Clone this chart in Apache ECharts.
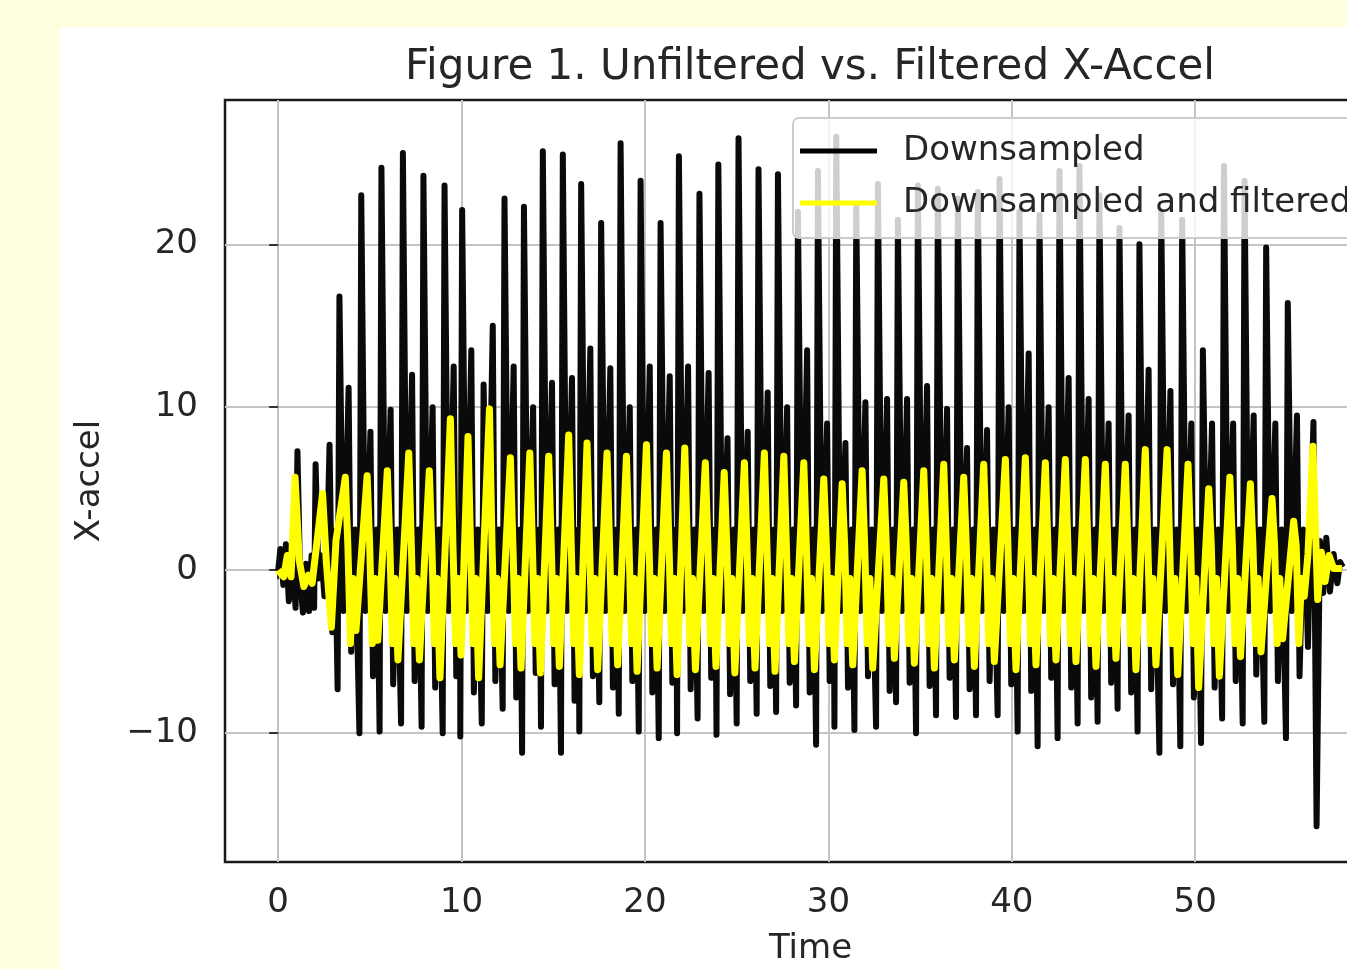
<!DOCTYPE html>
<html>
<head>
<meta charset="utf-8">
<title>Figure 1</title>
<script src="https://cdn.jsdelivr.net/npm/echarts@6/dist/echarts.min.js"></script>
<style>
  html, body { margin: 0; padding: 0; overflow: hidden; background: #fffee0; }
  #panel { position: absolute; left: 60px; top: 27px; width: 1300px; height: 950px; background: #ffffff; }
  #chart { position: absolute; left: 0; top: 0; width: 1420px; height: 969px; }
</style>
</head>
<body>
<div id="panel"></div>
<div id="chart"></div>
<script>
// start of the recording, before the regular strokes begin
const startBlack = [[0, 0], [0.12, 1.3], [0.28, -0.9], [0.42, 1.6], [0.58, -1.9], [0.78, 0.6], [0.95, -2.3], [1.05, 7.3],
  [1.2, -0.6], [1.35, -2.6], [1.52, 0.4], [1.68, -2.5], [1.82, 0.9], [1.96, -2.3], [2.04, 6.5], [2.2, -0.5],
  [2.36, 0.9], [2.52, -1.6], [2.68, 1.8], [2.8, 7.7], [2.95, -3.8], [3.1, 2.4]]
const startFilt = [[0, 0], [0.3, -0.4], [0.5, 0.9], [0.7, -0.4], [0.92, 5.7], [1.15, 0.6], [1.4, -1.0], [1.65, -0.3],
  [1.85, -0.8], [2.1, 1.6], [2.42, 4.7], [2.62, 0.6], [2.9, -3.5], [3.15, 1.8]]

// one entry per stroke: time of the big spike, then the values read around it
const spikeTime = [3.34, 4.53, 5.63, 6.8, 7.92, 9.07, 10.03, 11.2, 12.34, 13.4, 14.43, 15.52, 16.52, 17.61, 18.67, 19.76,
  20.85, 21.85, 22.97, 24.0, 25.1, 26.19, 27.25, 28.34, 29.43, 30.43, 31.52, 32.7, 33.79, 34.88, 35.97, 37.06,
  38.15, 39.33, 40.42, 41.51, 42.6, 43.69, 44.78, 45.87, 46.96, 48.15, 49.29, 50.42, 51.57, 52.69, 53.87, 55.05]
const peakVal = [16.8, 23.0, 24.7, 25.6, 24.2, 23.6, 22.1, 11.4, 22.8, 22.3, 25.7, 25.5, 23.7, 21.3, 26.2, 23.9,
  21.3, 25.4, 23.1, 24.9, 26.5, 24.6, 24.3, 22.0, 24.5, 26.6, 22.4, 23.7, 21.5, 23.6, 23.4, 22.8,
  23.2, 24.0, 22.0, 21.8, 24.5, 24.8, 23.0, 21.0, 20.0, 22.0, 21.5, 13.5, 24.8, 23.9, 19.8, 16.4]
const troughVal = [-7.3, -10, -9.9, -9.4, -9.6, -10, -10.2, -9.4, -8.5, -11.2, -9.6, -11.2, -9.9, -8.1, -8.8, -9.9,
  -10.3, -10, -9.1, -10.1, -9.4, -8.8, -8.7, -8.3, -10.7, -9.6, -9.8, -9.6, -8.1, -10, -8.9, -9,
  -8.9, -8.9, -9.9, -10.8, -10.3, -9.4, -9.3, -8.5, -9.9, -11.2, -10.8, -10.6, -9.1, -9.4, -9.3, -10.3]
const midVal = [11.2, 8.5, 9.85, 12, 10, 12.5, 13.5, 15, 12.5, 10, 11.5, 11.8, 13.6, 12.4, 10, 12.5,
  11.9, 12.5, 12.1, 8.1, 8.5, 10.9, 10, 13.5, 9, 7.8, 10.3, 10.5, 10.5, 11.3, 9.9, 7.5,
  8.6, 10, 13.3, 10, 11.8, 10.5, 9, 9.5, 12.3, 11, 9, 9, 9, 9.5, 9, 9.5]
const lowVal = [-5, -6.5, -7, -6.8, -7.2, -6.5, -7.5, -6.8, -7.8, -6.3, -7, -8, -6.5, -7.2, -6.8, -7.5,
  -6.9, -7.3, -6.6, -7.6, -6.8, -7.1, -6.9, -7.5, -6.8, -7.2, -6.5, -7.4, -6.9, -7.1, -6.6, -7.3,
  -6.8, -7, -7.4, -6.6, -7.2, -7.8, -6.9, -7.5, -7.3, -7, -7.8, -7.2, -6.8, -6.4, -6.8, -6.5]
const filtPeak = [5.7, 5.8, 6.1, 7.2, 6.1, 9.3, 8.2, 9.9, 6.9, 7.2, 7, 8.3, 7.8, 7.2, 7, 7.7,
  7.2, 7.5, 6.6, 6, 6.6, 7.2, 7, 6.6, 5.6, 5.3, 6.1, 5.6, 5.4, 6.1, 6.5, 5.7,
  6.5, 6.8, 6.9, 6.6, 6.8, 6.8, 6.5, 6.5, 7.4, 7.4, 6.5, 5, 5.7, 5.3, 4.4, 3.0]
const filtTrough = [-3.7, -4.3, -5.5, -5.5, -6.6, -5.2, -6.6, -5.8, -6, -6.3, -5.9, -6.4, -6.1, -5.8, -6.2, -6,
  -6.4, -6.1, -5.9, -6.3, -6, -6.2, -5.6, -6.1, -5.5, -5.8, -6, -5.4, -5.7, -6, -5.5, -5.9,
  -5.6, -6.1, -5.8, -5.5, -5.6, -5.9, -5.4, -6.1, -5.8, -6.4, -7.2, -6.5, -5.3, -5, -4.2, -1.6]

// tail of the recording
const endBlack = [[56.0, 1.5], [56.15, -4.7], [56.3, 3], [56.45, 9.1], [56.62, -15.7], [56.8, 1.8], [56.98, -1.4],
  [57.15, 2.0], [57.35, -1.3], [57.55, 1.0], [57.75, -0.8], [57.9, 0.5], [58.05, 0.2]]
const endFilt = [[56.15, 1.0], [56.42, 7.6], [56.68, -1.8], [56.88, 1.1], [57.08, -0.7], [57.3, 0.9], [57.55, 0.1], [58.0, 0.1]]

const xTicks = [0, 10, 20, 30, 40, 50]
const yTicks = [-10, 0, 10, 20]

document.addEventListener('DOMContentLoaded', () => {
  //拼出两条曲线
  const black = startBlack.slice()
  const filt = startFilt.slice()
  spikeTime.forEach((t, i) => {
    black.push([t - 0.1, troughVal[i]], [t, peakVal[i]], [t + 0.22, -2.5], [t + 0.5, midVal[i]], [t + 0.64, lowVal[i]], [t + 0.85, 2.5])
    filt.push([t + 0.32, filtPeak[i]], [t + 0.46, 1.5], [t + 0.6, -4.5], [t + 0.74, -0.5], [t + 0.9, filtTrough[i]])
  })
  endBlack.forEach(p => black.push(p))
  endFilt.forEach(p => filt.push(p))
  drawChart(black, filt)
})

function drawChart(black, filt) {
  var chartDom = document.getElementById('chart');
  var myChart = echarts.init(chartDom, null, { renderer: 'canvas' });
  var option;
  const font = 'DejaVu Sans'
  const textColor = '#262626'

  option = {
    animation: false,
    backgroundColor: 'transparent',
    textStyle: { fontFamily: font },
    graphic: [
      {
        type: 'text',
        x: 810,
        y: 68,
        style: {
          text: 'Figure 1. Unfiltered vs. Filtered X-Accel',
          fontFamily: font,
          fontSize: 42,
          fill: textColor,
          align: 'center',
          verticalAlign: 'middle',
          textAlign: 'center',
          textVerticalAlign: 'middle'
        }
      }
    ],
    grid: {
      left: 225,
      top: 100,
      width: 1171,
      height: 762,
      containLabel: false,
      outerBoundsMode: 'none',
      show: true,
      borderColor: '#1a1a1a',
      borderWidth: 2.5,
      backgroundColor: 'transparent'
    },
    legend: {
      left: 793,
      top: 118,
      orient: 'vertical',
      icon: 'rect',
      itemWidth: 77,
      itemHeight: 5,
      itemGap: 12,
      padding: [13, 20, 15, 7],
      backgroundColor: 'rgba(255,255,255,0.8)',
      borderColor: '#cccccc',
      borderWidth: 2,
      borderRadius: 6,
      textStyle: {
        fontFamily: font,
        fontSize: 34,
        lineHeight: 40,
        color: textColor,
        padding: [0, 0, 0, 21]
      },
      data: ['Downsampled', 'Downsampled and filtered']
    },
    xAxis: {
      type: 'value',
      min: -2.9,
      max: 60.95,
      name: 'Time',
      nameLocation: 'middle',
      nameGap: 70,
      nameTextStyle: { fontFamily: font, fontSize: 34, color: textColor },
      axisLine: { show: false },
      axisTick: { show: true, length: 9, customValues: xTicks, lineStyle: { color: '#333', width: 2 } },
      axisLabel: { customValues: xTicks, fontSize: 34, color: textColor, margin: 24, fontFamily: font },
      splitLine: { show: true, lineStyle: { color: '#c4c4c4', width: 2 } }
    },
    yAxis: {
      type: 'value',
      min: -17.9,
      max: 28.85,
      name: 'X-accel',
      nameLocation: 'middle',
      nameGap: 118,
      nameTextStyle: { fontFamily: font, fontSize: 34, color: textColor },
      axisLine: { show: false },
      axisTick: { show: true, length: 9, customValues: yTicks, lineStyle: { color: '#333', width: 2 } },
      axisLabel: {
        customValues: yTicks,
        fontSize: 34,
        color: textColor,
        margin: 27,
        fontFamily: font,
        //负号用真正的减号
        formatter: v => (v < 0 ? '\u2212' + Math.abs(v) : '' + v)
      },
      splitLine: { show: true, lineStyle: { color: '#c4c4c4', width: 2 } }
    },
    series: [
      {
        name: 'Downsampled',
        type: 'line',
        data: black,
        showSymbol: false,
        color: '#000000',
        lineStyle: { color: '#0a0a0a', width: 6, join: 'round' },
        z: 2
      },
      {
        name: 'Downsampled and filtered',
        type: 'line',
        data: filt,
        showSymbol: false,
        color: '#ffff00',
        lineStyle: { color: '#ffff00', width: 7, join: 'round' },
        z: 3
      }
    ]
  };

  option && myChart.setOption(option);
}
</script>
</body>
</html>
